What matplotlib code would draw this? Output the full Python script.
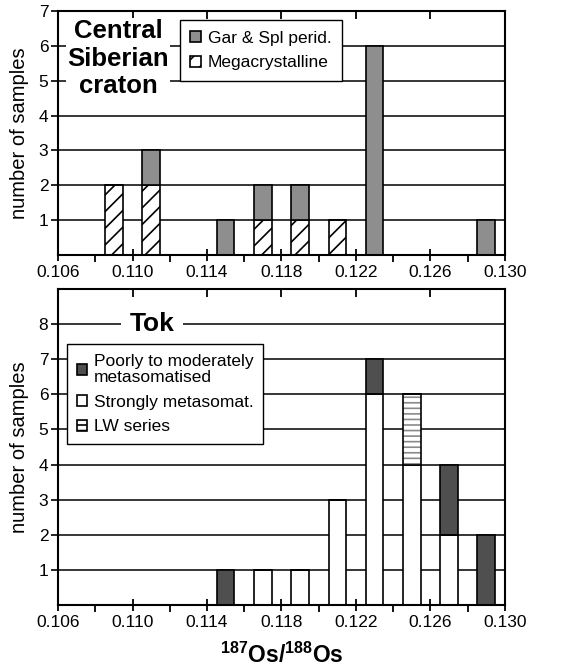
import matplotlib

matplotlib.use("Agg")
import matplotlib.pyplot as plt
from matplotlib.patches import Patch
from matplotlib.ticker import MultipleLocator

plt.rcParams["font.family"] = ["Liberation Sans", "DejaVu Sans"]
plt.rcParams["mathtext.fontset"] = "custom"
plt.rcParams["mathtext.rm"] = "Liberation Sans"
plt.rcParams["mathtext.bf"] = "Liberation Sans:bold"
plt.rcParams["hatch.linewidth"] = 1.2

# --- data: bin centres of 187Os/188Os and stacked sample counts ---
siberia_bins = [0.109, 0.111, 0.115, 0.117, 0.119, 0.121, 0.123, 0.129]
siberia_mega = [2, 2, 0, 1, 1, 1, 0, 0]
siberia_perid = [0, 1, 1, 1, 1, 0, 6, 1]

tok_bins = [0.115, 0.117, 0.119, 0.121, 0.123, 0.125, 0.127, 0.129]
tok_strong = [0, 1, 1, 3, 6, 4, 2, 0]
tok_lw = [0, 0, 0, 0, 0, 2, 0, 0]
tok_poor = [1, 0, 0, 0, 1, 0, 2, 2]

x_ticks = [0.106, 0.110, 0.114, 0.118, 0.122, 0.126, 0.130]
top_ticks = [0.110, 0.114, 0.118, 0.122, 0.126]

GRAY = "#8e8e8e"
DARK = "#4f4f4f"
BAR_W = 0.00095
LW = 1.2


def style_axes(ax, ymax, ylabels):
    ax.set_xlim(0.106, 0.130)
    ax.set_ylim(0, ymax)
    ax.set_xticks(x_ticks)
    ax.set_xticklabels([f"{t:.3f}" for t in x_ticks])
    ax.xaxis.set_minor_locator(MultipleLocator(0.002))
    ax.tick_params(axis="x", which="major", direction="inout", length=9, width=1.3, labelsize=12.5, pad=3)
    ax.tick_params(axis="x", which="minor", direction="out", length=5, width=1.3)
    ax.set_yticks(ylabels)
    ax.tick_params(axis="y", direction="out", length=5, width=1.2, labelsize=12.5, pad=2)
    for y in ylabels:
        if y < ymax:
            ax.axhline(y, color="black", lw=1.1, zorder=1)
    for s in ax.spines.values():
        s.set_linewidth(1.5)
        s.set_zorder(5)
    sec = ax.secondary_xaxis("top")
    sec.set_xticks(top_ticks)
    sec.tick_params(direction="in", length=6, width=1.3, labeltop=False)
    sec.spines["top"].set_visible(False)
    ax.set_ylabel("number of samples", fontsize=14.5, labelpad=7)


fig = plt.figure(figsize=(5.65, 6.69), dpi=100)
ax1 = fig.add_axes([0.1027, 0.6188, 0.791, 0.3647])
ax2 = fig.add_axes([0.1027, 0.0957, 0.791, 0.4723])

# top panel: Central Siberian craton
ax1.bar(siberia_bins, siberia_mega, BAR_W, color="white", edgecolor="black", hatch="//", lw=LW, zorder=2)
ax1.bar(siberia_bins, siberia_perid, BAR_W, bottom=siberia_mega, color=GRAY, edgecolor="black", lw=LW, zorder=2)
style_axes(ax1, 7, [1, 2, 3, 4, 5, 6, 7])

ax1.text(0.134, 0.805, "Central\nSiberian\ncraton", transform=ax1.transAxes, ha="center", va="center",
         fontsize=18.5, fontweight="bold", linespacing=1.2, zorder=6,
         bbox=dict(facecolor="white", edgecolor="none", pad=1))
leg1 = ax1.legend(
    handles=[
        Patch(facecolor=GRAY, edgecolor="black", lw=1.2, label="Gar & Spl perid."),
        Patch(facecolor="white", edgecolor="black", lw=1.2, hatch="//", label="Megacrystalline"),
    ],
    loc="upper left", bbox_to_anchor=(0.273, 0.962), borderaxespad=0, fontsize=12.5,
    handlelength=0.6, handleheight=0.6, handletextpad=0.4, labelspacing=0.55,
    fancybox=False, framealpha=1, edgecolor="black", borderpad=0.6,
)
leg1.get_frame().set_linewidth(1.0)
leg1.set_zorder(7)

# bottom panel: Tok
ax2.bar(tok_bins, tok_strong, BAR_W, color="white", edgecolor="black", lw=LW, zorder=2)
lw_bottom = tok_strong
ax2.bar(tok_bins, tok_lw, BAR_W, bottom=lw_bottom, color="white", edgecolor="#8a8a8a", hatch="---", lw=0, zorder=2)
ax2.bar(tok_bins, tok_lw, BAR_W, bottom=lw_bottom, fill=False, edgecolor="black", lw=LW, zorder=3)
poor_bottom = [a + b for a, b in zip(tok_strong, tok_lw)]
ax2.bar(tok_bins, tok_poor, BAR_W, bottom=poor_bottom, color=DARK, edgecolor="black", lw=LW, zorder=2)
style_axes(ax2, 9, [1, 2, 3, 4, 5, 6, 7, 8])
ax2.set_xlabel(r"$\mathbf{^{187}Os/^{188}Os}$", fontsize=16.5, labelpad=9)

ax2.text(0.21, 8, "Tok", transform=ax2.get_yaxis_transform(), ha="center", va="center",
         fontsize=19, fontweight="bold", zorder=6,
         bbox=dict(facecolor="white", edgecolor="none", pad=6))
leg2 = ax2.legend(
    handles=[
        Patch(facecolor=DARK, edgecolor="black", lw=1.2, label="Poorly to moderately\nmetasomatised"),
        Patch(facecolor="white", edgecolor="black", lw=1.2, label="Strongly metasomat."),
        Patch(facecolor="white", edgecolor="black", lw=1.2, hatch="---", label="LW series"),
    ],
    loc="upper left", bbox_to_anchor=(0.02, 0.826), borderaxespad=0, fontsize=12.5,
    handlelength=0.6, handleheight=0.6, handletextpad=0.4, labelspacing=0.55,
    fancybox=False, framealpha=1, edgecolor="black", borderpad=0.55,
)
leg2.get_frame().set_linewidth(1.0)
leg2.set_zorder(7)
for t in leg2.get_texts():
    t.set_linespacing(1.15)

fig.savefig("out.png", dpi=100)
